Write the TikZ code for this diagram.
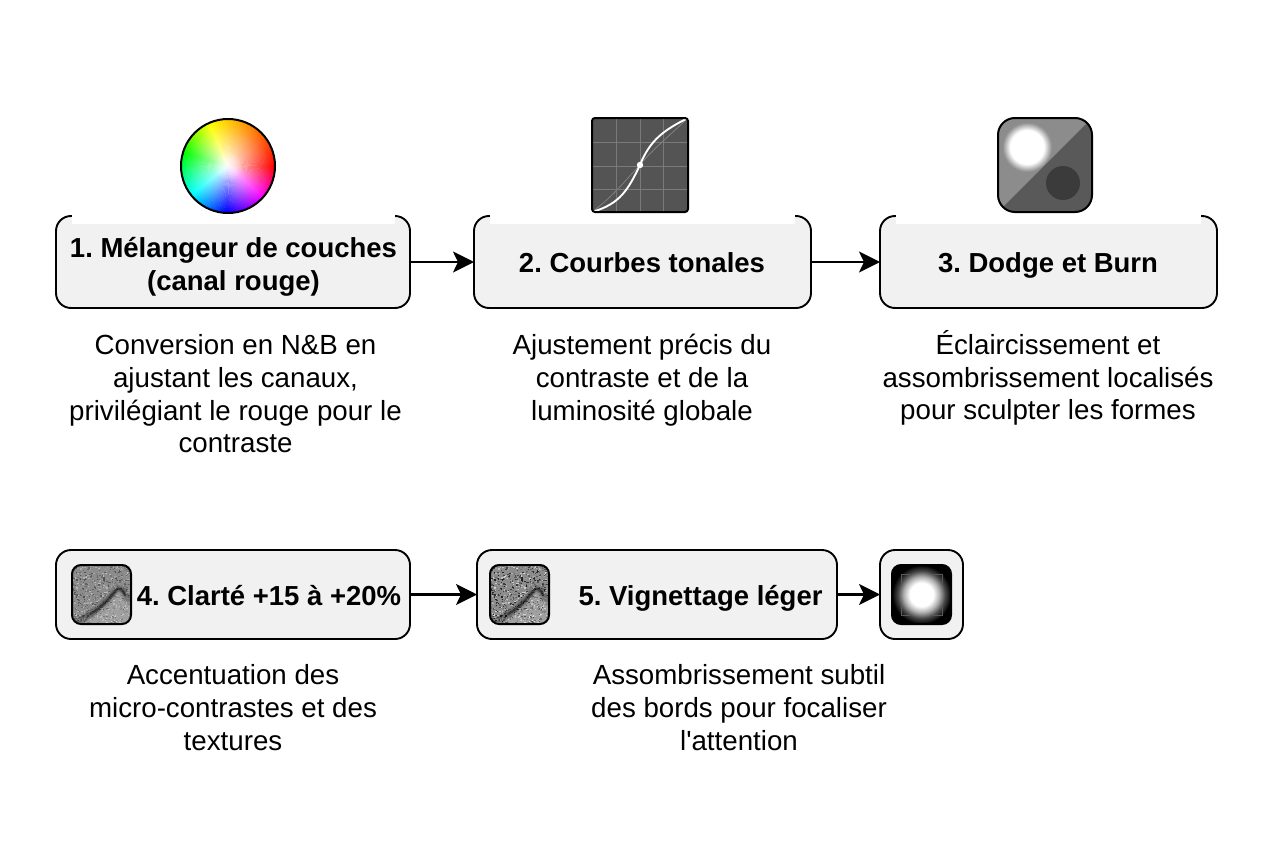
\documentclass[tikz,border=0pt]{standalone}
\usepackage{fontspec}
\setmainfont{Liberation Sans}
\usetikzlibrary{arrows.meta,fadings}
\definecolor{boxfill}{HTML}{F1F1F1}
\tikzfading[name=wheelfade, inner color=transparent!0, outer color=transparent!100]
\pgfdeclareradialshading{vig}{\pgfpointorigin}{color(0bp)=(white); color(10bp)=(white); color(15bp)=(black!30); color(20bp)=(black!72); color(25bp)=(black); color(50bp)=(black)}
\pgfdeclareradialshading{glowshade}{\pgfpointorigin}{color(0bp)=(white); color(9.6bp)=(white); color(14bp)=(black!45); color(50bp)=(black!45)}
\tikzset{
  stepbox/.style={draw=black,line width=1.9bp,fill=boxfill,rounded corners=15bp,outer sep=0pt,inner sep=0pt},
  desc/.style={font=\fontsize{27.8}{33}\selectfont\frenchspacing,align=center,anchor=north,inner sep=0pt},
  flow/.style={line width=2.1bp,-{Stealth[length=21bp,width=21bp,inset=5bp]}},
  lab/.style={font=\fontsize{27.6}{33}\selectfont\bfseries\frenchspacing,align=center,inner sep=0pt},
  iconedge/.style={draw=black,line width=2bp,rounded corners=9bp},
}
\newcommand{\grainicon}[4]{%
  \begin{scope}[shift={(#1,#2)}]
    \begin{scope}
      \clip[rounded corners=9bp] (0,0) rectangle (59,59);
      \fill[black!45] (0,0) rectangle (59,59);
      \pgfmathsetseed{4711}
      \foreach \n in {1,...,900}{
        \pgfmathsetmacro{\px}{rnd*59}
        \pgfmathsetmacro{\py}{rnd*59}
        \pgfmathsetmacro{\gr}{int(#3+rnd*#4)}
        \fill[black!\gr] (\px,\py) ++(-.7,-.6) rectangle ++(1.4,1.2);
      }
      \fill[white,opacity=.18] (6,62) .. controls (22,52) and (36,40) .. (45,27) .. controls (48,24) and (52,28) .. (62,38) -- (62,62) -- cycle;
      \draw[black,line width=9bp,opacity=.1,line cap=round] (2,58) .. controls (20,50) and (34,38) .. (44,25) .. controls (47,22) and (52,26) .. (57,36);
      \draw[black,line width=5bp,opacity=.2,line cap=round] (8,55) .. controls (20,50) and (34,38) .. (44,25) .. controls (47,22) and (52,26) .. (56,34);
      \draw[black,line width=2.2bp,opacity=.45,line cap=round] (18,49) .. controls (26,45) and (36,36) .. (44,25) .. controls (47,22) and (51,25) .. (53,30);
    \end{scope}
    \draw[iconedge] (0,0) rectangle (59,59);
  \end{scope}}
\begin{document}
\begin{tikzpicture}[x=1bp,y=-1bp]
\useasboundingbox (0,0) rectangle (1264,848);
\fill[white] (0,0) rectangle (1264,848);

% step boxes
\node[stepbox,minimum width=354bp,minimum height=92bp] (b1) at (233,262) {};
\node[stepbox,minimum width=337bp,minimum height=92bp] (b2) at (642.5,262) {};
\node[stepbox,minimum width=337bp,minimum height=92bp] (b3) at (1048.5,262) {};
\node[stepbox,minimum width=354bp,minimum height=89bp] (b4) at (233,594.5) {};
\node[stepbox,minimum width=360bp,minimum height=89bp] (b5) at (657,594.5) {};
\node[stepbox,minimum width=83bp,minimum height=89bp] (b6) at (921.5,594.5) {};

% white bands of the icons hide the top edge of the upper boxes
\fill[white] (72,213) rectangle (395,224);
\fill[white] (490,213) rectangle (795,224);
\fill[white] (896,213) rectangle (1201,224);

% box labels
\node[lab] (t1) at (233.5,266.5) {1. Mélangeur de couches\\(canal rouge)};
\node[lab] (t2) at (642,263) {2. Courbes tonales};
\node[lab] (t3) at (1048,265.5) {3. Dodge et Burn};
\node[lab] (t4) at (269,596) {4. Clarté +15 à +20\%};
\node[lab] (t5) at (700.5,598) {5. Vignettage léger};

% descriptions
\node[desc] (d1) at (235.5,334) {Conversion en N\&B en\\ajustant les canaux,\\privilégiant le rouge pour le\\contraste};
\node[desc] (d2) at (642,334) {Ajustement précis du\\contraste et de la\\luminosité globale};
\node[desc] (d3) at (1048,330) {Éclaircissement et\\assombrissement localisés\\pour sculpter les formes};
\node[desc] (d4) at (233,664) {Accentuation des\\micro-contrastes et des\\textures};
\node[desc] (d5) at (739,664) {Assombrissement subtil\\des bords pour focaliser\\l\textquotesingle attention};

% connectors
\draw[flow] (b1) -- (b2);
\draw[flow] (b2) -- (b3);
\draw[flow] (b4) -- (b5);
\draw[flow] (b5) -- (b6);

% colour wheel
\begin{scope}[shift={(228,166)}]
  \begin{scope}
    \clip (0,0) circle (47);
    \foreach \a in {1.5,4.5,...,358.5}{
      \pgfmathsetmacro{\hue}{\a<40 ? 360-\a*1.5 : (\a<90 ? 300-(\a-40)*1.2 : (\a<140 ? 240-(\a-90)*1.2 : (\a<195 ? 180-(\a-140)*1.0909 : (\a<245 ? 120-(\a-195)*1.2 : 60-(\a-245)*0.5217))))}
      \pgfmathsetmacro{\huen}{\hue/360}
      \definecolor{wedgecol}{hsb}{\huen,1,1}
      \fill[wedgecol] (0,0) -- (\a:60) -- (\a+3.6:60) -- cycle;
    }
    \fill[white,path fading=wheelfade,opacity=.9] (-45,-45) rectangle (45,45);
    \fill[white,path fading=wheelfade,opacity=.6] (-15,-15) rectangle (15,15);
  \end{scope}
  \draw[line width=2bp] (0,0) circle (47);
\end{scope}

% tone curve
\begin{scope}[shift={(592,118)}]
  \begin{scope}
    \clip[rounded corners=3bp] (0,0) rectangle (96,94);
    \fill[black!67] (0,0) rectangle (96,94);
    \foreach \g in {24,48,71}{
      \draw[black!52,line width=.9bp] (\g,0) -- (\g,94);
      \draw[black!52,line width=.9bp] (0,\g) -- (96,\g);
    }
    \draw[black!50,line width=.8bp] (0,94) .. controls (25,75) and (35,60) .. (48,47) .. controls (60,32) and (75,20) .. (96,0);
    \draw[white,line width=1.9bp] (0,94) .. controls (28,86) and (36,72) .. (48,47) .. controls (58,22) and (72,12) .. (96,0);
  \end{scope}
  \draw[line width=2bp,rounded corners=3bp] (0,0) rectangle (96,94);
  \fill[white] (48,47) circle (3.2);
\end{scope}

% dodge and burn
\begin{scope}[shift={(998,118)}]
  \begin{scope}
    \clip[rounded corners=17bp] (0,0) rectangle (94,94);
    \fill[black!45] (0,0) rectangle (94,94);
    \shade[shading=glowshade] (-15,-15) rectangle (73,73);
    \fill[black!65] (94,0) -- (94,94) -- (0,94) -- cycle;
    \fill[black!77] (65,65) circle (17);
  \end{scope}
  \draw[line width=2bp,rounded corners=17bp] (0,0) rectangle (94,94);
\end{scope}

% texture thumbnails
\grainicon{72}{565}{25}{45}
\grainicon{490}{565}{15}{75}

% vignette
\begin{scope}[shift={(892,565)}]
  \begin{scope}
    \clip[rounded corners=9bp] (0,0) rectangle (59,59);
    \shade[shading=vig] (0,0) rectangle (59,59);
    \draw[black!65,line width=.8bp] (9,18) -- (9,9) -- (18,9);
    \draw[black!65,line width=.8bp] (41,9) -- (50,9) -- (50,18);
    \draw[black!65,line width=.8bp] (9,41) -- (9,50) -- (18,50);
    \draw[black!65,line width=.8bp] (41,50) -- (50,50) -- (50,41);
  \end{scope}
  \draw[iconedge] (0,0) rectangle (59,59);
\end{scope}
\end{tikzpicture}
\end{document}
